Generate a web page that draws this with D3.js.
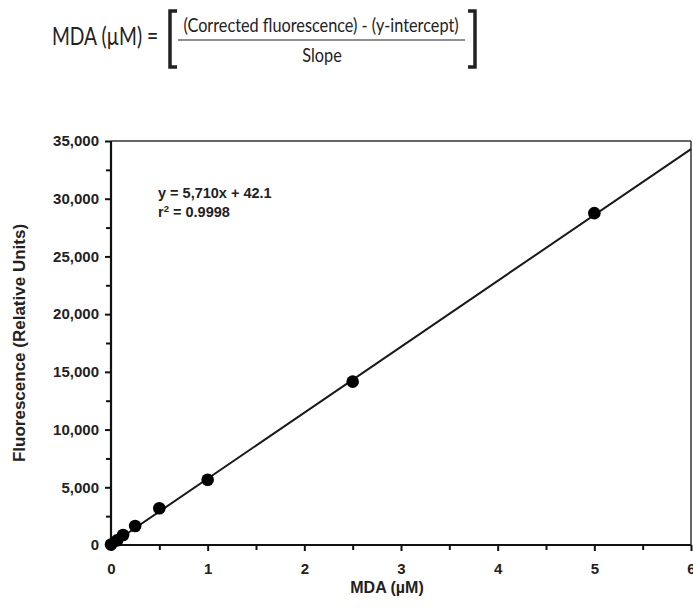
<!DOCTYPE html>
<html><head><meta charset="utf-8">
<script src="https://cdn.jsdelivr.net/npm/d3@7"></script>
<style>
html,body{margin:0;padding:0;background:#fff;}
svg{display:block;}
</style></head>
<body>
<svg id="c" width="693" height="608"></svg>
<script>
// ---- data ----
const mdaConc = [0, 0.0625, 0.125, 0.25, 0.5, 1, 2.5, 5];            // MDA (µM)
const fluorescence = [40, 400, 870, 1640, 3180, 5650, 14150, 28750];   // Relative Units
const fitSlope = 5710;
const fitIntercept = 42.1;
const xTicksMajor = [0, 1, 2, 3, 4, 5, 6];
const xTicksMinor = [0.5, 1.5, 2.5, 3.5, 4.5, 5.5];
const yTicksMajor = [0, 5000, 10000, 15000, 20000, 25000, 30000, 35000];
const yTicksMinor = [2500, 7500, 12500, 17500, 22500, 27500, 32500];
const eqLines = ["y = 5,710x + 42.1", "r", " = 0.9998"];
const xTitle = "MDA (µM)";
const yTitle = "Fluorescence (Relative Units)";

const svg = d3.select("#c");
const L = 111, R = 691, T = 141, B = 545;
const x = d3.scaleLinear().domain([0, 6]).range([L, R]);
const y = d3.scaleLinear().domain([0, 35000]).range([B, T]);
const font = "'Liberation Sans', Arial, Helvetica, sans-serif";

// ---- formula header ----
const hdr = svg.append("g").attr("font-family", "Lato, sans-serif").attr("fill", "#222");
hdr.append("text").attr("transform", "translate(52,45) scale(0.77,1)").attr("font-size", 25).text("MDA (µM) =");
hdr.append("text").attr("transform", "translate(321,32) scale(0.88,1)").attr("font-size", 18.5).attr("text-anchor", "middle")
  .text("(Corrected fluorescence) - (y-intercept)");
hdr.append("line").attr("x1", 178).attr("x2", 465).attr("y1", 40).attr("y2", 40).attr("stroke", "#222").attr("stroke-width", 1.2);
hdr.append("text").attr("transform", "translate(322,62) scale(0.88,1)").attr("font-size", 18.5).attr("text-anchor", "middle").text("Slope");
hdr.append("path").attr("d", "M177,11 L170,11 L170,67 L177,67").attr("fill", "none").attr("stroke", "#222").attr("stroke-width", 3.5);
hdr.append("path").attr("d", "M468,11 L475,11 L475,67 L468,67").attr("fill", "none").attr("stroke", "#222").attr("stroke-width", 3.5);

// ---- frame (top & right) ----
svg.append("line").attr("x1", L).attr("x2", R).attr("y1", T).attr("y2", T).attr("stroke", "#333").attr("stroke-width", 1.5);
svg.append("line").attr("x1", R).attr("x2", R).attr("y1", T).attr("y2", B).attr("stroke", "#333").attr("stroke-width", 1.5);

// ---- axes ----
const xAxis = svg.append("g").attr("transform", `translate(0,${B})`)
  .call(d3.axisBottom(x).tickValues(xTicksMajor).tickSize(6).tickPadding(12).tickFormat(d3.format("d")));
const xMinor = svg.append("g").attr("transform", `translate(0,${B})`)
  .call(d3.axisBottom(x).tickValues(xTicksMinor).tickSize(5).tickFormat(""));
const yAxis = svg.append("g").attr("transform", `translate(${L},0)`)
  .call(d3.axisLeft(y).tickValues(yTicksMajor).tickSize(6).tickPadding(6).tickFormat(d3.format(",")));
const yMinor = svg.append("g").attr("transform", `translate(${L},0)`)
  .call(d3.axisLeft(y).tickValues(yTicksMinor).tickSize(5).tickFormat(""));
[xAxis, xMinor, yAxis, yMinor].forEach(g => {
  g.select(".domain").attr("stroke", "#111").attr("stroke-width", 2.2);
  g.selectAll(".tick line").attr("stroke", "#111").attr("stroke-width", 2);
  g.selectAll("text").attr("font-family", font).attr("font-weight", "bold").attr("font-size", 15).attr("fill", "#222");
});
xMinor.select(".domain").remove(); yMinor.select(".domain").remove();
xAxis.select(".domain").attr("d", `M${L},0H${R}`);
yAxis.select(".domain").attr("d", `M0,${B}V${T}`);

// ---- fit line ----
const fitX = [0, 6];
svg.append("line")
  .attr("x1", x(fitX[0])).attr("y1", y(fitSlope * fitX[0] + fitIntercept))
  .attr("x2", x(fitX[1])).attr("y2", y(fitSlope * fitX[1] + fitIntercept))
  .attr("stroke", "#1a1a1a").attr("stroke-width", 2);

// ---- points ----
svg.append("g").selectAll("circle").data(mdaConc).join("circle")
  .attr("cx", d => x(d)).attr("cy", (d, i) => y(fluorescence[i])).attr("r", 6.3).attr("fill", "#000");

// ---- equation ----
const eq = svg.append("text").attr("font-family", font).attr("font-weight", "bold").attr("font-size", 14.5).attr("fill", "#222");
eq.append("tspan").attr("x", 158).attr("y", 198).text(eqLines[0]);
const t2 = svg.append("text").attr("font-family", font).attr("font-weight", "bold").attr("font-size", 14.5).attr("fill", "#222")
  .attr("x", 158).attr("y", 217);
t2.append("tspan").text(eqLines[1]);
t2.append("tspan").attr("dy", -5).attr("font-size", 9.5).text("2");
t2.append("tspan").attr("dy", 5).text(eqLines[2]);

// ---- axis titles ----
svg.append("text").attr("x", 387).attr("y", 593).attr("text-anchor", "middle")
  .attr("font-family", font).attr("font-weight", "bold").attr("font-size", 16).attr("fill", "#222").text(xTitle);
svg.append("text").attr("transform", `translate(25,${(T + B) / 2}) rotate(-90)`).attr("text-anchor", "middle")
  .attr("font-family", font).attr("font-weight", "bold").attr("font-size", 17).attr("fill", "#222").text(yTitle);
</script>
</body></html>
